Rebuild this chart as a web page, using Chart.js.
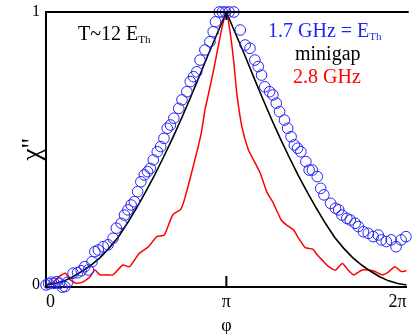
<!DOCTYPE html>
<html>
<head>
<meta charset="utf-8">
<script src="https://cdn.jsdelivr.net/npm/chart.js@4"></script>
<style>
html, body { margin: 0; padding: 0; background: #fff; }
#wrap { width: 413px; height: 334px; position: relative; }
</style>
</head>
<body>
<div id="wrap"><canvas id="chart"></canvas></div>
<script>
// x values are phi / pi
const xTickValues = [0, 1, 2];
const xTickLabels = ['0', 'π', '2π'];
const yTickValues = [0, 1];

// 1.7 GHz = E_Th (open circles)
const blueX = [0.000, 0.015, 0.030, 0.045, 0.060, 0.075, 0.090, 0.105, 0.120, 0.150,
    0.175, 0.195, 0.215, 0.235, 0.255, 0.271, 0.290, 0.317, 0.344, 0.372,
    0.390, 0.417, 0.435, 0.454, 0.472, 0.490, 0.508, 0.526, 0.545, 0.563,
    0.578, 0.595, 0.617, 0.636, 0.654, 0.672, 0.690, 0.709, 0.736, 0.754,
    0.781, 0.800, 0.818, 0.836, 0.854, 0.881, 0.909, 0.927, 0.940, 0.960,
    0.978, 0.996, 1.015, 1.042, 1.077, 1.104, 1.131, 1.158, 1.177, 1.195,
    1.213, 1.240, 1.258, 1.277, 1.295, 1.322, 1.340, 1.359, 1.377, 1.395,
    1.413, 1.441, 1.459, 1.477, 1.504, 1.523, 1.541, 1.578, 1.605, 1.623,
    1.641, 1.668, 1.687, 1.714, 1.732, 1.760, 1.787, 1.814, 1.842, 1.860,
    1.887, 1.914, 1.941, 1.969, 1.996];
const blueY = [0.000, 0.004, 0.010, 0.006, 0.012, 0.006, -0.008, -0.006, 0.010, 0.043,
    0.045, 0.052, 0.067, 0.055, 0.085, 0.122, 0.128, 0.140, 0.147, 0.171,
    0.208, 0.226, 0.256, 0.275, 0.293, 0.305, 0.342, 0.378, 0.403, 0.415,
    0.427, 0.458, 0.488, 0.507, 0.537, 0.574, 0.586, 0.611, 0.647, 0.678,
    0.708, 0.745, 0.763, 0.781, 0.824, 0.861, 0.891, 0.928, 0.964, 1.000,
    1.000, 1.000, 1.000, 1.000, 0.934, 0.879, 0.867, 0.824, 0.800, 0.769,
    0.726, 0.708, 0.696, 0.666, 0.635, 0.604, 0.574, 0.543, 0.513, 0.501,
    0.488, 0.452, 0.421, 0.421, 0.397, 0.354, 0.330, 0.299, 0.281, 0.275,
    0.256, 0.244, 0.238, 0.226, 0.214, 0.195, 0.189, 0.177, 0.183, 0.165,
    0.159, 0.165, 0.140, 0.165, 0.177];

// minigap (black line)
const blackX = [0.00, 0.05, 0.10, 0.15, 0.20, 0.25, 0.30, 0.35, 0.40, 0.45,
    0.50, 0.55, 0.60, 0.65, 0.70, 0.75, 0.80, 0.85, 0.90, 0.95,
    1.00, 1.05, 1.10, 1.15, 1.20, 1.25, 1.30, 1.35, 1.40, 1.45,
    1.50, 1.55, 1.60, 1.65, 1.70, 1.75, 1.80, 1.85, 1.90, 1.95, 2.00];
const blackY = [0.000, 0.005, 0.015, 0.030, 0.050, 0.073, 0.100, 0.135, 0.175, 0.225,
    0.280, 0.338, 0.400, 0.466, 0.535, 0.608, 0.685, 0.764, 0.845, 0.922,
    1.000, 0.922, 0.845, 0.764, 0.685, 0.608, 0.535, 0.466, 0.400, 0.338,
    0.280, 0.225, 0.175, 0.135, 0.100, 0.073, 0.050, 0.030, 0.015, 0.005, 0.000];

// 2.8 GHz (red line)
const redX = [0.000, 0.044, 0.071, 0.107, 0.135, 0.171, 0.208, 0.244, 0.271, 0.299,
    0.335, 0.372, 0.426, 0.463, 0.517, 0.568, 0.614, 0.656, 0.702, 0.748,
    0.772, 0.807, 0.845, 0.862, 0.881, 0.896, 0.927, 0.951, 0.975, 1.000,
    1.020, 1.040, 1.058, 1.086, 1.122, 1.151, 1.188, 1.225, 1.261, 1.304,
    1.333, 1.375, 1.395, 1.437, 1.479, 1.504, 1.536, 1.562, 1.589, 1.607,
    1.643, 1.675, 1.707, 1.752, 1.790, 1.825, 1.866, 1.900, 1.934, 1.970, 2.000];
const redY = [0.000, 0.012, 0.030, 0.043, 0.018, 0.006, 0.012, 0.030, 0.055, 0.037,
    0.037, 0.037, 0.073, 0.067, 0.116, 0.140, 0.177, 0.183, 0.256, 0.278,
    0.323, 0.410, 0.510, 0.560, 0.640, 0.685, 0.780, 0.860, 0.940, 1.000,
    0.930, 0.824, 0.702, 0.580, 0.495, 0.458, 0.409, 0.340, 0.299, 0.238,
    0.220, 0.200, 0.177, 0.137, 0.131, 0.110, 0.088, 0.070, 0.058, 0.055,
    0.079, 0.055, 0.037, 0.055, 0.055, 0.049, 0.037, 0.048, 0.067, 0.049, 0.052];

const toPoints = (xs, ys) => xs.map((x, i) => ({ x: x, y: ys[i] }));

const FONT = '"Liberation Serif", "Times New Roman", serif';
const BLUE = 'rgb(35, 35, 245)';

function subText(ctx, x, y, main, sub, color) {
    ctx.fillStyle = color;
    ctx.font = '20px ' + FONT;
    ctx.textAlign = 'left';
    ctx.textBaseline = 'alphabetic';
    ctx.fillText(main, x, y);
    const w = ctx.measureText(main).width;
    ctx.font = '11px ' + FONT;
    ctx.fillText(sub, x + w, y + 3);
}

const extras = {
    id: 'extras',
    afterDraw(chart) {
        const ctx = chart.ctx;
        const a = chart.chartArea;
        const px = chart.scales.x.getPixelForValue(1);
        ctx.save();
        ctx.strokeStyle = '#000';
        ctx.lineWidth = 2;
        ctx.beginPath();
        ctx.moveTo(a.left - 1, a.top);
        ctx.lineTo(a.right + 2, a.top);
        ctx.moveTo(px, a.bottom);
        ctx.lineTo(px, a.bottom - 11);
        ctx.moveTo(px, a.top);
        ctx.lineTo(px, a.top + 8);
        ctx.stroke();

        subText(ctx, 78, 40, 'T~12 E', 'Th', '#000');
        subText(ctx, 268, 37, '1.7 GHz = E', 'Th', BLUE);
        ctx.font = '20px ' + FONT;
        ctx.fillStyle = '#000';
        ctx.fillText('minigap', 295, 60);
        ctx.fillStyle = 'red';
        ctx.fillText('2.8 GHz', 293, 83);
        ctx.restore();
    }
};

new Chart(document.getElementById('chart'), {
    type: 'scatter',
    data: {
        datasets: [{
            label: '1.7 GHz = E_Th',
            data: toPoints(blueX, blueY),
            showLine: false,
            pointStyle: 'circle',
            pointRadius: 5.3,
            pointBorderWidth: 1,
            pointBorderColor: BLUE,
            pointBackgroundColor: 'rgba(0,0,0,0)',
            clip: false
        }, {
            label: 'minigap',
            data: toPoints(blackX, blackY),
            showLine: true,
            borderColor: '#000',
            borderWidth: 1.6,
            pointRadius: 0,
            tension: 0
        }, {
            label: '2.8 GHz',
            data: toPoints(redX, redY),
            showLine: true,
            borderColor: 'red',
            borderWidth: 1.5,
            pointRadius: 0,
            tension: 0.2
        }]
    },
    options: {
        responsive: true,
        maintainAspectRatio: false,
        animation: false,
        devicePixelRatio: 1,
        layout: { padding: { top: 12, right: 1, left: 0, bottom: 0 } },
        plugins: {
            legend: { display: false },
            tooltip: { enabled: false }
        },
        scales: {
            x: {
                type: 'linear',
                min: 0,
                max: 2,
                afterBuildTicks: s => { s.ticks = xTickValues.map(v => ({ value: v })); },
                afterFit: s => { s.height = 47; s.paddingLeft = 0; s.paddingRight = 0; },
                grid: { display: false, drawTicks: false },
                border: { display: true, color: '#000', width: 2 },
                ticks: {
                    align: 'inner',
                    autoSkip: false,
                    maxRotation: 0,
                    padding: 4,
                    color: '#000',
                    font: { family: FONT, size: 18 },
                    callback: (v, i) => xTickLabels[i]
                },
                title: {
                    display: true,
                    text: 'φ',
                    color: '#000',
                    font: { family: FONT, size: 18 },
                    padding: { top: 0, bottom: -3 }
                }
            },
            y: {
                min: -0.0075,
                max: 1,
                afterBuildTicks: s => { s.ticks = yTickValues.map(v => ({ value: v })); },
                afterFit: s => { s.width = 46; s.paddingTop = 0; s.paddingBottom = 0; },
                grid: { display: false, drawTicks: false },
                border: { display: true, color: '#000', width: 2 },
                ticks: {
                    padding: 6,
                    color: '#000',
                    font: { family: FONT, size: 16 },
                    callback: v => String(v)
                },
                title: {
                    display: true,
                    text: "χ''",
                    color: '#000',
                    font: { family: FONT, size: 28 },
                    padding: { top: 16, bottom: 0 }
                }
            }
        }
    },
    plugins: [extras]
});
</script>
</body>
</html>
